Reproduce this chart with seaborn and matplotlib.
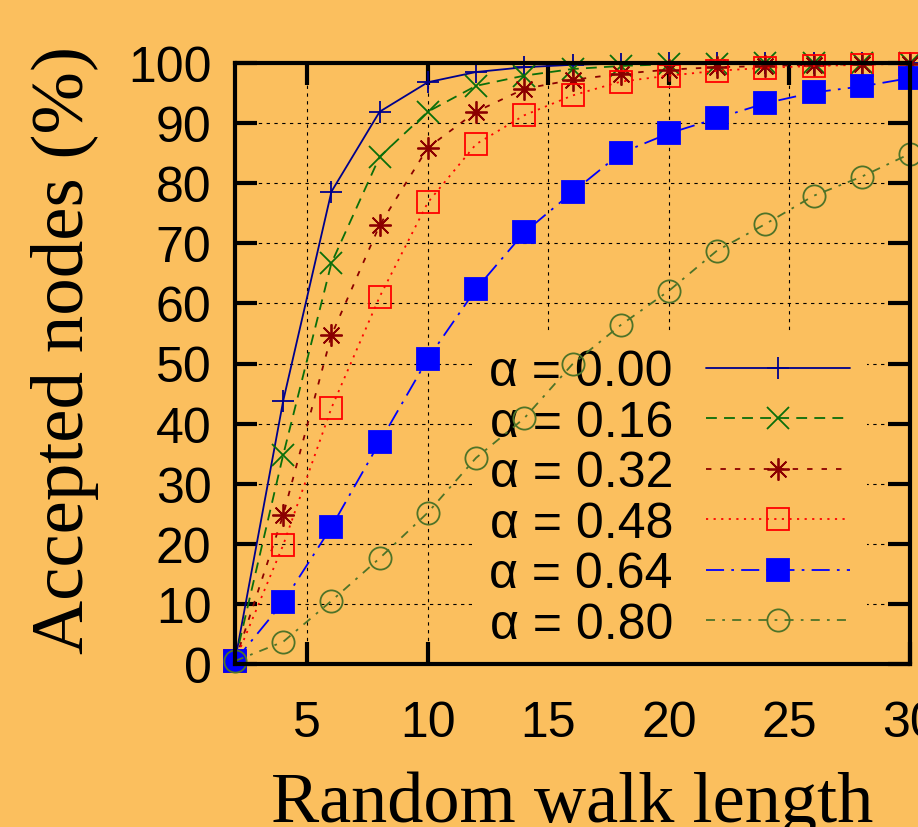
"""
Accepted nodes vs random walk length, one curve per alpha.
Redrawn from a gnuplot figure with seaborn/matplotlib.
"""

import matplotlib
matplotlib.use('Agg')
import matplotlib.pyplot as plt
import seaborn as sns

# data
walk_length = [2, 4, 6, 8, 10, 12, 14, 16, 18, 20, 22, 24, 26, 28, 30]

alpha_000 = [0.5, 43.8, 78.6, 91.9, 96.8, 98.5, 99.3, 99.7, 99.9, 100, 100, 100, 100, 100, 100]
alpha_016 = [0.5, 34.8, 66.7, 84.4, 91.9, 96.2, 97.9, 99.0, 99.5, 99.8, 99.9, 100, 100, 100, 100]
alpha_032 = [0.5, 24.8, 54.7, 73.0, 85.9, 91.9, 95.7, 97.2, 98.2, 98.9, 99.3, 99.5, 99.7, 99.8, 99.9]
alpha_048 = [0.5, 19.8, 42.6, 61.1, 76.8, 86.5, 91.3, 94.6, 96.9, 97.9, 98.7, 99.2, 99.5, 99.7, 99.9]
alpha_064 = [0.5, 10.3, 22.8, 36.9, 50.8, 62.4, 71.8, 78.5, 85.0, 88.3, 90.8, 93.3, 95.1, 96.1, 97.5]
alpha_080 = [0.5, 3.7, 10.5, 17.6, 25.2, 34.3, 40.9, 49.9, 56.4, 62.1, 68.8, 73.2, 77.9, 81.1, 84.9]

series = [alpha_000, alpha_016, alpha_032, alpha_048, alpha_064, alpha_080]
labels = ['α = 0.00', 'α = 0.16', 'α = 0.32', 'α = 0.48', 'α = 0.64', 'α = 0.80']

# gnuplot-like styles
colors = ['#00008b', '#0a6e0a', '#8b0000', '#ff0000', '#0000ff', '#4e7328']
markers = ['+', 'x', (8, 2, 0), 's', 's', 'o']
filled = [True, True, True, False, True, False]
line_styles = ['-', (0, (6, 4)), (0, (3, 5)), (0, (1.2, 3)),
               (0, (10, 4, 1.5, 4)), (0, (5, 4, 1.5, 4))]

bg = '#fbbf5e'

sns.set_theme(style='ticks')
plt.rcParams['font.family'] = ['Liberation Sans', 'DejaVu Sans']
plt.rcParams['text.color'] = 'black'
plt.rcParams['axes.labelcolor'] = 'black'

fig = plt.figure(figsize=(9.18, 8.28), dpi=100, facecolor=bg)
ax = fig.add_axes([235 / 918, 163 / 828, 675 / 918, 601 / 828])
ax.set_facecolor(bg)

for vals, lab, col, mk, face, ls in zip(series, labels, colors, markers, filled, line_styles):
    sns.lineplot(
        x=walk_length, y=vals, ax=ax,
        color=col, label=lab, legend=False, errorbar=None,
        marker=mk, markersize=16,
        markerfacecolor=col if face else 'none',
        markeredgecolor=col, markeredgewidth=1.3,
        linewidth=1.3, linestyle=ls, clip_on=False,
    )

ax.set_xlim(2, 30)
ax.set_ylim(0, 100)
ax.set_xticks([5, 10, 15, 20, 25, 30])
ax.set_yticks(range(0, 101, 10))
ax.tick_params(direction='in', length=16, width=3, top=True, right=True,
               labelsize=36, colors='black', labelcolor='black')
ax.tick_params(axis='x', pad=26)
ax.tick_params(axis='y', pad=17)
for sp in ax.spines.values():
    sp.set_visible(True)
    sp.set_linewidth(3)
    sp.set_color('black')

ax.grid(True, color='black', linestyle=(0, (3, 4)), linewidth=0.8)

ax.set_xlabel('Random walk length', fontfamily='Liberation Serif', fontsize=52,
              va='baseline', color='black')
ax.xaxis.set_label_coords(0.5, -0.2612)
ax.set_ylabel('Accepted nodes (%)', fontfamily='Liberation Serif', fontsize=54,
              va='baseline', color='black')
ax.yaxis.set_label_coords(-0.2252, 0.524)

# opaque key like gnuplot: hides the grid but sits under the curves
leg = ax.legend(loc='lower right', bbox_to_anchor=(0.937, -0.002),
                markerfirst=False, fontsize=36, handlelength=2.88,
                handletextpad=0.66, labelspacing=0.09, borderpad=0.35,
                borderaxespad=0, frameon=True, facecolor=bg, edgecolor='none',
                framealpha=1, fancybox=False)
leg.set_zorder(1)
for t in leg.get_texts():
    t.set_color('black')

fig.savefig('out.png', dpi=100, facecolor=bg)
